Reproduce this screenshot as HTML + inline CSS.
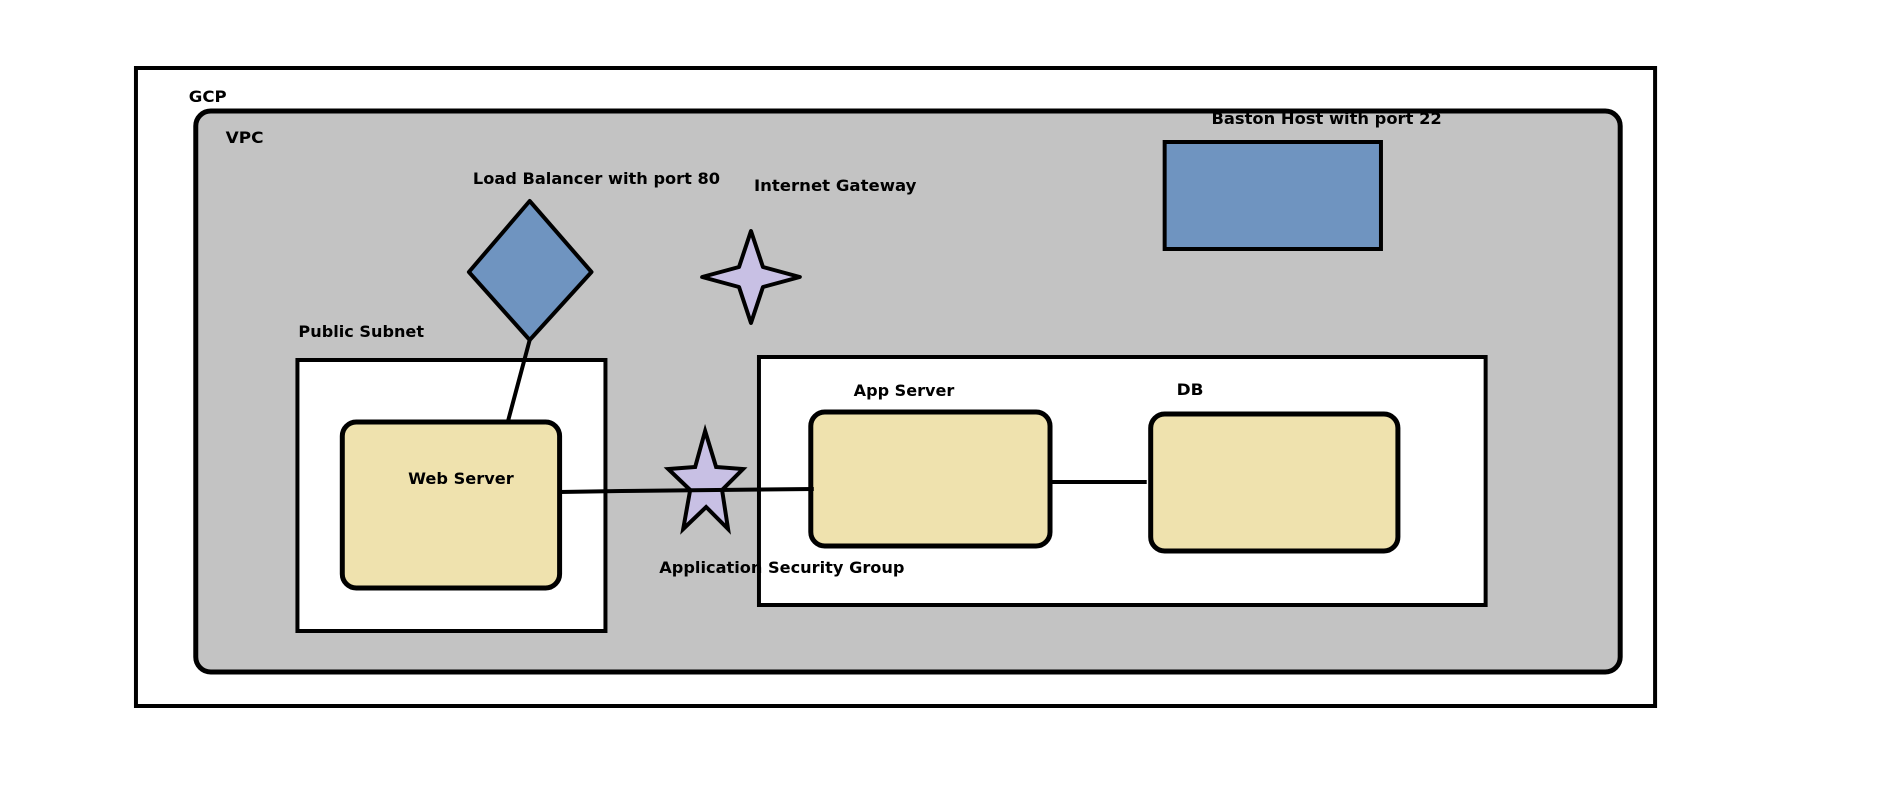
<!DOCTYPE html>
<html><head><style>html,body{margin:0;padding:0;background:#fff}svg{display:block}</style></head>
<body>
<svg width="1895" height="799" viewBox="0 0 1895 799" xmlns="http://www.w3.org/2000/svg" font-family="'DejaVu Sans','Liberation Sans',sans-serif" font-size="16" fill="#000">
<rect width="1895" height="799" fill="#fff"/>
<g transform="matrix(0.9968 0 0 1 -1.6 -1)">
<rect x="138" y="69" width="1524" height="638" fill="#fff" stroke="#000" stroke-width="4"/>
<rect x="198" y="112" width="1429" height="561" rx="15" fill="#c3c3c3" stroke="#000" stroke-width="5"/>
<rect x="1170" y="143" width="217" height="107" fill="#6f94c0" stroke="#000" stroke-width="4"/>
<polygon points="533,202 472,273 533,341 595,273" fill="#6f94c0" stroke="#000" stroke-width="4" stroke-linejoin="round"/>
<polygon points="755,232 767,268 804,278 767,288 755,324 743,288 706,278 743,268" fill="#c8c0e4" stroke="#000" stroke-width="4" stroke-linejoin="round"/>
<rect x="300" y="361" width="309" height="271" fill="#fff" stroke="#000" stroke-width="4"/>
<rect x="763" y="358" width="729" height="248" fill="#fff" stroke="#000" stroke-width="4"/>
<line x1="533" y1="341" x2="511" y2="423" stroke="#000" stroke-width="4"/>
<rect x="345" y="423" width="218" height="166" rx="14" fill="#efe2ae" stroke="#000" stroke-width="5"/>
<rect x="815" y="413" width="240" height="134" rx="14" fill="#efe2ae" stroke="#000" stroke-width="5"/>
<rect x="1156" y="415" width="248" height="137" rx="14" fill="#efe2ae" stroke="#000" stroke-width="5"/>
<line x1="1055" y1="483" x2="1152" y2="483" stroke="#000" stroke-width="4"/>
<polygon points="709,432 720,468 747,470 726,491 732,530 710,508 687,530 694,491 672,470 699,468" fill="#c8c0e4" stroke="#000" stroke-width="4" stroke-linejoin="miter"/>
<polyline points="563,493 625,492 818,490" fill="none" stroke="#000" stroke-width="4"/>
<g font-weight="bold">
<text x="191" y="103" textLength="38" lengthAdjust="spacingAndGlyphs">GCP</text>
<text x="228" y="144" textLength="38" lengthAdjust="spacingAndGlyphs">VPC</text>
<text x="476" y="185" textLength="248" lengthAdjust="spacingAndGlyphs">Load Balancer with port 80</text>
<text x="758" y="192" textLength="163" lengthAdjust="spacingAndGlyphs">Internet Gateway</text>
<text x="1217" y="125" textLength="231" lengthAdjust="spacingAndGlyphs">Baston Host with port 22</text>
<text x="301" y="338" textLength="126" lengthAdjust="spacingAndGlyphs">Public Subnet</text>
<text x="411" y="485" textLength="106" lengthAdjust="spacingAndGlyphs">Web Server</text>
<text x="858" y="397" textLength="101" lengthAdjust="spacingAndGlyphs">App Server</text>
<text x="1182" y="396" textLength="27" lengthAdjust="spacingAndGlyphs">DB</text>
<text x="663" y="574" textLength="246" lengthAdjust="spacingAndGlyphs">Application Security Group</text>
</g>
</g>
</svg>
</body></html>
